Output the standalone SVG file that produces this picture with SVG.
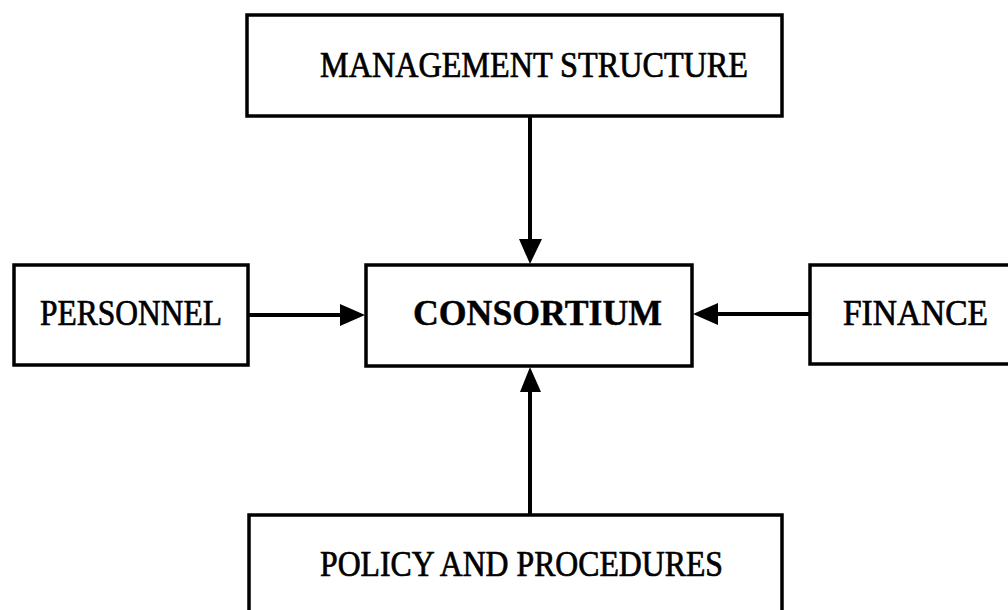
<svg xmlns="http://www.w3.org/2000/svg" width="1008" height="610" viewBox="0 0 1008 610">
<style>
.box{fill:#fff;stroke:#000;stroke-width:3.5}
.lbl{font-family:"Liberation Serif","Times New Roman",serif;font-size:35px;fill:#000;stroke:#000;stroke-width:0.7}
.bold{font-weight:bold;stroke-width:0.4}
.conn line{stroke:#000;stroke-width:4}
.conn polygon{fill:#000}
</style>
<rect width="1008" height="610" fill="#fff"/>
<g id="management">
<rect class="box" x="247" y="15" width="535" height="101"/>
<text class="lbl" x="320" y="77" textLength="428" lengthAdjust="spacingAndGlyphs">MANAGEMENT STRUCTURE</text>
</g>
<g id="personnel">
<rect class="box" x="14" y="265" width="234" height="100"/>
<text class="lbl" x="40" y="325" textLength="182" lengthAdjust="spacingAndGlyphs">PERSONNEL</text>
</g>
<g id="consortium">
<rect class="box" x="366" y="265" width="326" height="101"/>
<text class="lbl bold" x="413" y="325" font-size="34" textLength="249" lengthAdjust="spacingAndGlyphs">CONSORTIUM</text>
</g>
<g id="finance">
<rect class="box" x="810" y="265" width="210" height="99"/>
<text class="lbl" x="843" y="325" textLength="145" lengthAdjust="spacingAndGlyphs">FINANCE</text>
</g>
<g id="policy">
<rect class="box" x="249" y="515" width="533" height="110"/>
<text class="lbl" x="320" y="576" textLength="403" lengthAdjust="spacingAndGlyphs">POLICY AND PROCEDURES</text>
</g>
<g id="connectors" class="conn">
<line x1="530" y1="116" x2="530" y2="242"/>
<polygon points="519,239 542,239 530,264"/>
<line x1="530" y1="515" x2="530" y2="390"/>
<polygon points="520,392 541,392 530,367"/>
<line x1="248" y1="315" x2="342" y2="315"/>
<polygon points="340,304 340,326 365,315"/>
<line x1="810" y1="314" x2="716" y2="314"/>
<polygon points="718,303 718,325 693,314"/>
</g>
</svg>
